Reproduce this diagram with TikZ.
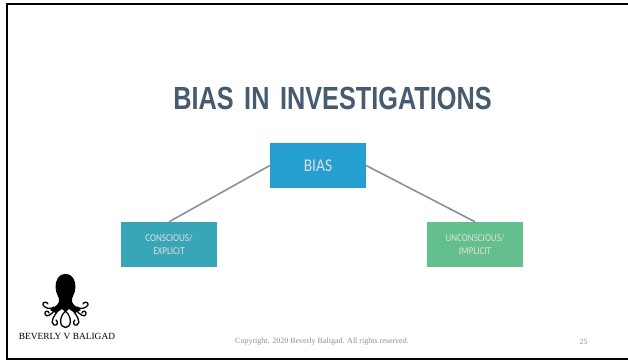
\documentclass[tikz,border=0pt]{standalone}
\usepackage{fontspec}
\setmainfont{Carlito}
\newfontfamily\titlefont[FakeStretch=0.79,WordSpace=1.5]{Liberation Sans}
\newfontfamily\boxfont[FakeStretch=0.86]{Carlito}
\newfontfamily\logofont{Liberation Serif}
\usetikzlibrary{positioning}
\definecolor{biasblue}{HTML}{259ED0}
\definecolor{tealbox}{HTML}{38A6B6}
\definecolor{greenbox}{HTML}{63BF8B}
\definecolor{linkgrey}{HTML}{8590A2}
\definecolor{titlegrey}{HTML}{465A70}
\definecolor{footgrey}{HTML}{8F8F8F}
\tikzset{
    catbox/.style={minimum width=96pt, minimum height=45pt, inner sep=0pt, align=center, text=white!88!black, font=\boxfont\fontsize{10.5}{13.5}\selectfont},
    link/.style={draw=linkgrey, line width=1.6pt},
    arm/.style={draw=black, line width=1.3pt, line cap=round}
}
\begin{document}
\begin{tikzpicture}[x=1pt, y=-1pt]
    \useasboundingbox (0,0) rectangle (628,360);
    % Slide frame
    \draw[line width=2pt] (628,4) -- (7,4) -- (7,358.5) -- (628,358.5);
    % Title
    \node (title) at (332.5,98) {\titlefont\fontsize{32}{36}\selectfont\bfseries\color{titlegrey}BIAS IN INVESTIGATIONS};
    % Boxes
    \node[catbox, fill=biasblue, font=\boxfont\fontsize{18}{20}\selectfont] (bias) at (318,165.5) {BIAS};
    \node[catbox, fill=tealbox] (conscious) at (169,244.5) {CONSCIOUS/\\EXPLICIT};
    \node[catbox, fill=greenbox] (unconscious) at (475,244.5) {UNCONSCIOUS/\\IMPLICIT};
    % Links
    \draw[link] (bias.west) -- (conscious.north);
    \draw[link] (bias.east) -- (unconscious.north);
    % Logo
    \fill (65.5,274) .. controls (58,274) and (55.5,281) .. (55.5,287) .. controls (55.5,294) and (60,297) .. (59,302)
        .. controls (57,306) and (53,308) .. (50,310) -- (56,313) -- (62,309) -- (65.5,312) -- (69,309) -- (75,313) -- (81,310)
        .. controls (78,308) and (74,306) .. (72,302) .. controls (71,297) and (75.5,294) .. (75.5,287) .. controls (75.5,281) and (73,274) .. (65.5,274) -- cycle;
    \draw[arm] (54,307) .. controls (50,310) and (45,308) .. (43,305) .. controls (42,302) and (47,301) .. (48,304);
    \draw[arm] (77,307) .. controls (81,310) and (86,308) .. (88,305) .. controls (89,302) and (84,301) .. (83,304);
    \draw[arm] (55,310) .. controls (51,315) and (46,318) .. (45,314) .. controls (44,311) and (49,310) .. (49,313);
    \draw[arm] (76,310) .. controls (80,315) and (85,318) .. (86,314) .. controls (87,311) and (82,310) .. (82,313);
    \draw[arm] (59,309) .. controls (55,315) and (49,322) .. (54,325) .. controls (57,326) and (59,322) .. (56,320);
    \draw[arm] (72,309) .. controls (76,315) and (82,322) .. (77,325) .. controls (74,326) and (72,322) .. (75,320);
    \draw[arm] (65.5,311) .. controls (58,318) and (60,327.5) .. (65.5,327.5) .. controls (71,327.5) and (73,318) .. (65.5,311);
    \node (logotext) at (67,336) {\logofont\fontsize{9.4}{11}\selectfont BEVERLY V BALIGAD};
    % Footer
    \node[text=footgrey] (copyright) at (322,342) {\logofont\fontsize{8}{10}\selectfont Copyright. 2020 Beverly Baligad. All rights reserved.};
    \node[text=footgrey] (pagenum) at (583.5,342) {\logofont\fontsize{8}{10}\selectfont 25};
\end{tikzpicture}
\end{document}
